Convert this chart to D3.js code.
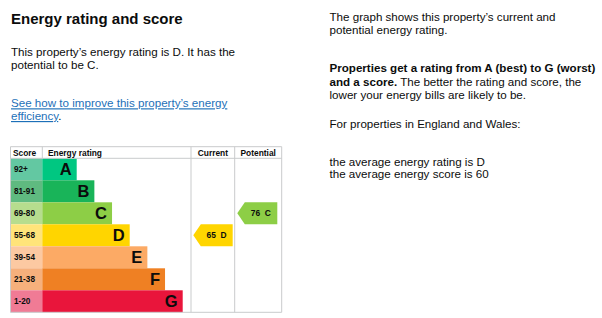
<!DOCTYPE html>
<html>
<head>
<meta charset="utf-8">
<script src="https://cdn.jsdelivr.net/npm/d3@7"></script>
<style>
  html, body { margin: 0; padding: 0; background: #fff; }
  svg { display: block; font-family: "Liberation Sans", Arial, sans-serif; }
</style>
</head>
<body>
<svg id="chart" width="602" height="318"></svg>
<script>
// ---------------------------------------------------------
// EPC energy rating chart
// ---------------------------------------------------------

// bands A..G, best to worst
const RATINGS      = ["A", "B", "C", "D", "E", "F", "G"];
const SCORE_RANGES = ["92+", "81-91", "69-80", "55-68", "39-54", "21-38", "1-20"];
const BAR_COLORS   = ["#00c781", "#19b459", "#8dce46", "#ffd500", "#fcaa65", "#ef8023", "#e9153b"];
const CELL_COLORS  = ["#63c8a2", "#5fba80", "#b6dd8e", "#ffe47a", "#fcc9a2", "#f6b07c", "#f07b95"];

// this property
const CURRENT   = { score: 65, rating: "D" };
const POTENTIAL = { score: 76, rating: "C" };

const COLUMNS = ["Score", "Energy rating", "Current", "Potential"];

const svg = d3.select("#chart");
const ink = "#0b0c0c";
const grid = "#c9cbcc";

// -------------------------------------------------------
// TEXT (left + right columns)
// -------------------------------------------------------
svg.append("text")
  .attr("x", 11).attr("y", 24)
  .attr("font-size", 15).attr("font-weight", "bold").attr("fill", ink)
  .text("Energy rating and score");

const para = svg.append("text").attr("font-size", 11.6).attr("fill", ink);
para.append("tspan").attr("x", 11).attr("y", 56)
  .text("This property\u2019s energy rating is D. It has the");
para.append("tspan").attr("x", 11).attr("y", 69.3)
  .text("potential to be C.");

const link = svg.append("text").attr("font-size", 11.6);
link.append("tspan").attr("x", 11).attr("y", 107.3)
  .attr("fill", "#1d70b8").attr("text-decoration", "underline")
  .text("See how to improve this property\u2019s energy");
const l2 = link.append("tspan").attr("x", 11).attr("y", 120);
l2.append("tspan").attr("fill", "#1d70b8").attr("text-decoration", "underline").text("efficiency");
l2.append("tspan").attr("fill", ink).text(".");

const RX = 329.5;
const right = svg.append("text").attr("font-size", 11.6).attr("fill", ink);
right.append("tspan").attr("x", RX).attr("y", 20.7)
  .text("The graph shows this property\u2019s current and");
right.append("tspan").attr("x", RX).attr("y", 34.3)
  .text("potential energy rating.");
right.append("tspan").attr("x", RX).attr("y", 72.3).attr("font-weight", "bold")
  .text("Properties get a rating from A (best) to G (worst)");
const r2 = right.append("tspan").attr("x", RX).attr("y", 85.6);
r2.append("tspan").attr("font-weight", "bold").text("and a score.");
r2.append("tspan").text(" The better the rating and score, the");
right.append("tspan").attr("x", RX).attr("y", 99)
  .text("lower your energy bills are likely to be.");
right.append("tspan").attr("x", RX).attr("y", 128.3)
  .text("For properties in England and Wales:");
right.append("tspan").attr("x", RX).attr("y", 165.7)
  .text("the average energy rating is D");
right.append("tspan").attr("x", RX).attr("y", 177.5)
  .text("the average energy score is 60");

// -------------------------------------------------------
// CHART FRAME
// -------------------------------------------------------
const frame = { left: 10.5, top: 146.7, head: 158.3, bottom: 312.3 };
const colEdges = [10.5, 42.3, 191, 234.7, 281.7]; // score | rating | current | potential

const y = d3.scaleBand()
  .domain(RATINGS)
  .range([frame.head, frame.bottom])
  .paddingInner(0);

// bar end grows with band index (A shortest)
const barEnd = d3.scaleLinear()
  .domain([0, RATINGS.length - 1])
  .range([76.7, 182.7]);

const g = svg.append("g");

// score cells
g.selectAll("rect.cell")
  .data(RATINGS)
  .enter().append("rect")
  .attr("class", "cell")
  .attr("x", colEdges[0])
  .attr("y", d => y(d))
  .attr("width", colEdges[1] - colEdges[0])
  .attr("height", y.bandwidth())
  .attr("fill", (d, i) => CELL_COLORS[i]);

g.selectAll("text.range")
  .data(RATINGS)
  .enter().append("text")
  .attr("class", "range")
  .attr("x", 14)
  .attr("y", d => y(d) + y.bandwidth() / 2 + 3)
  .attr("font-size", 8.2).attr("font-weight", "bold").attr("fill", ink)
  .text((d, i) => SCORE_RANGES[i]);

// bars
g.selectAll("rect.bar")
  .data(RATINGS)
  .enter().append("rect")
  .attr("class", "bar")
  .attr("x", colEdges[1])
  .attr("y", d => y(d))
  .attr("width", (d, i) => barEnd(i) - colEdges[1])
  .attr("height", y.bandwidth())
  .attr("fill", (d, i) => BAR_COLORS[i]);

g.selectAll("text.letter")
  .data(RATINGS)
  .enter().append("text")
  .attr("class", "letter")
  .attr("x", (d, i) => barEnd(i) - 5)
  .attr("y", d => y(d) + y.bandwidth() / 2 + 6)
  .attr("text-anchor", "end")
  .attr("font-size", 16.5).attr("font-weight", "bold").attr("fill", ink)
  .text(d => d);

// grid lines
g.append("line")
  .attr("x1", colEdges[0]).attr("x2", colEdges[4])
  .attr("y1", frame.top).attr("y2", frame.top)
  .attr("stroke", grid);
g.append("line")
  .attr("x1", colEdges[0]).attr("x2", colEdges[4])
  .attr("y1", frame.head).attr("y2", frame.head)
  .attr("stroke", grid);
g.append("line")
  .attr("x1", colEdges[0]).attr("x2", colEdges[4])
  .attr("y1", frame.bottom).attr("y2", frame.bottom)
  .attr("stroke", grid);
g.selectAll("line.v")
  .data(colEdges)
  .enter().append("line")
  .attr("class", "v")
  .attr("x1", d => d).attr("x2", d => d)
  .attr("y1", frame.top)
  .attr("y2", (d, i) => i === 1 ? frame.head : frame.bottom)
  .attr("stroke", grid);

// header labels
const headX = [13, 48, (colEdges[2] + colEdges[3]) / 2, (colEdges[3] + colEdges[4]) / 2];
g.selectAll("text.head")
  .data(COLUMNS)
  .enter().append("text")
  .attr("class", "head")
  .attr("x", (d, i) => headX[i])
  .attr("y", 155.6)
  .attr("text-anchor", (d, i) => i < 2 ? "start" : "middle")
  .attr("font-size", 8.4).attr("font-weight", "bold").attr("fill", ink)
  .text(d => d);

// -------------------------------------------------------
// ARROWS (current / potential)
// -------------------------------------------------------
const arrows = [
  { ...CURRENT,   left: colEdges[2] + 2.3, right: colEdges[3] - 2 },
  { ...POTENTIAL, left: colEdges[3] + 2.6, right: colEdges[4] - 4.4 }
];

const arrowG = g.selectAll("g.arrow")
  .data(arrows)
  .enter().append("g")
  .attr("class", "arrow");

arrowG.append("path")
  .attr("d", d => {
    const top = y(d.rating), h = y.bandwidth(), tip = 7.5;
    return `M${d.left},${top + h / 2} L${d.left + tip},${top} L${d.right},${top} ` +
           `L${d.right},${top + h} L${d.left + tip},${top + h} Z`;
  })
  .attr("fill", d => BAR_COLORS[RATINGS.indexOf(d.rating)]);

arrowG.append("text")
  .attr("x", d => (d.left + d.right) / 2 + 3.5)
  .attr("y", d => y(d.rating) + y.bandwidth() / 2 + 3)
  .attr("text-anchor", "middle")
  .attr("font-size", 8.4).attr("font-weight", "bold").attr("fill", ink)
  .attr("xml:space", "preserve")
  .text(d => `${d.score}  ${d.rating}`);
</script>
</body>
</html>
